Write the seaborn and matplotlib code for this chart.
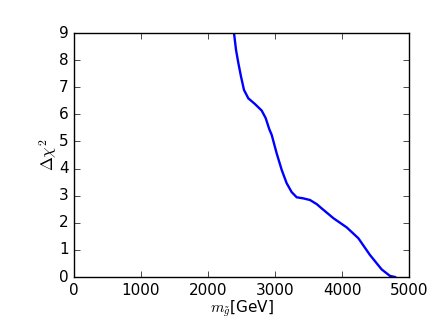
import matplotlib
matplotlib.use("Agg")
import matplotlib.pyplot as plt
import seaborn as sns
import pandas as pd

mass = [2388, 2418, 2453, 2493, 2537, 2602, 2701, 2801, 2861, 2915, 2951,
        3025, 3100, 3174, 3249, 3324, 3423, 3522, 3622, 3697, 3871, 4070,
        4244, 4418, 4592, 4716, 4791]
dchi2 = [9.0, 8.38, 7.89, 7.39, 6.90, 6.59, 6.38, 6.14, 5.86, 5.45, 5.24,
         4.56, 3.95, 3.46, 3.13, 2.94, 2.90, 2.84, 2.69, 2.53, 2.17, 1.83,
         1.43, 0.81, 0.28, 0.04, 0.0]
xticks = [0, 1000, 2000, 3000, 4000, 5000]
yticks = [0, 1, 2, 3, 4, 5, 6, 7, 8, 9]

plt.style.use("classic")
plt.rcParams["font.family"] = ["DejaVu Sans"]

df = pd.DataFrame({"m": mass, "d": dchi2})
fig = plt.figure(figsize=(4.36, 3.27), dpi=100)
fig.patch.set_facecolor("white")
ax = fig.add_axes([74/436, 1-277/327, (409-74)/436, (277-33)/327])
sns.lineplot(data=df, x="m", y="d", ax=ax, color="#0000ff", linewidth=1.7, sort=False)
ax.set_xlim(0, 5000)
ax.set_ylim(0, 9)
ax.set_xticks(xticks)
ax.set_yticks(yticks)
ax.tick_params(labelsize=11)
ax.set_xlabel(r"$m_{\tilde{g}}$[GeV]", fontsize=11, labelpad=1)
ax.set_ylabel(r"$\Delta\chi^2$", fontsize=12, labelpad=0)
fig.savefig("out.png", dpi=100, facecolor="white")
